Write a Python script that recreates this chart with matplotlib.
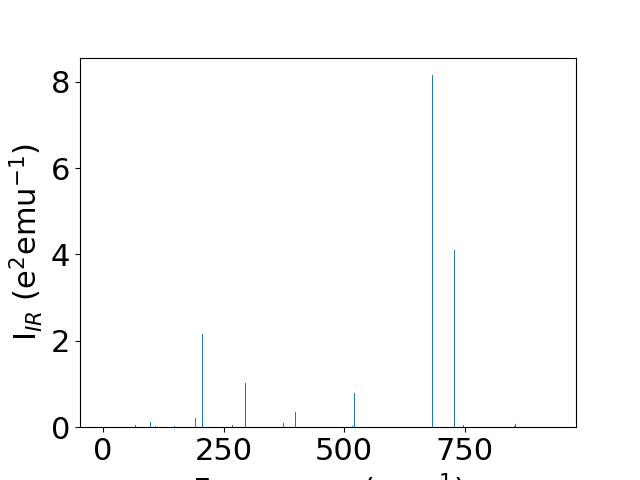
import matplotlib
matplotlib.use("Agg")
import matplotlib.pyplot as plt

freqs = [67, 98, 109, 149, 191, 206, 268, 295, 374, 399, 517, 521, 683, 729, 747, 853, 855]
intensities = [0.045, 0.115, 0.02, 0.02, 0.21, 2.15, 0.045, 1.02, 0.09, 0.35, 0.02, 0.79, 8.15, 4.11, 0.04, 0.02, 0.07]

plt.rcParams['font.size'] = 22
fig, ax = plt.subplots(figsize=(6.4, 4.8), dpi=100)
ax.bar(freqs, intensities, width=2.0, color='#1f77b4')
ax.set_xlim(-47.7, 981)
ax.set_xticks([0, 250, 500, 750])
ax.set_xlabel('Frequency (cm$^{-1}$)')
ax.set_ylabel('I$_{IR}$ (e$^2$emu$^{-1}$)')
fig.savefig('out.png')
